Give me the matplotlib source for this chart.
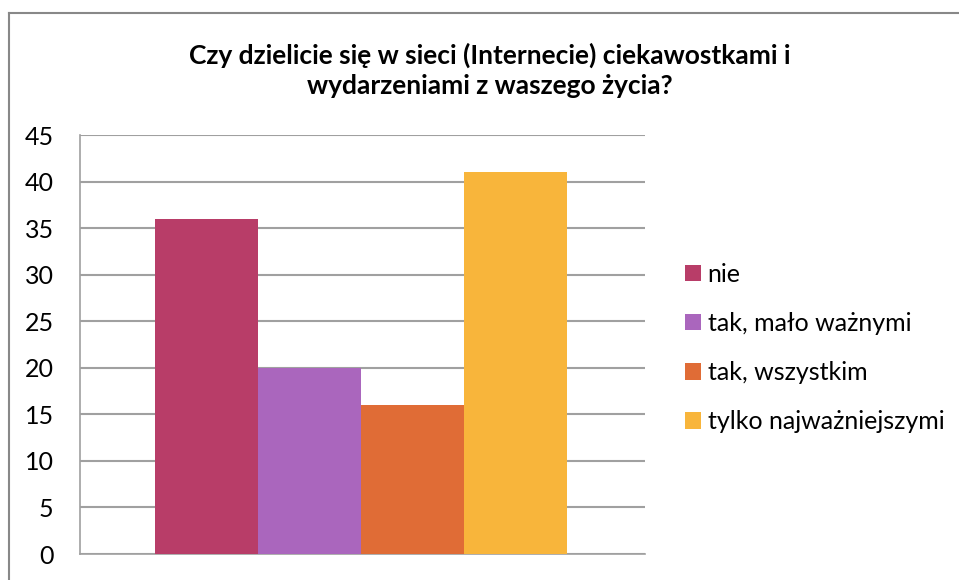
import matplotlib.pyplot as plt
from matplotlib.lines import Line2D

title = "Czy dzielicie się w sieci (Internecie) ciekawostkami i\nwydarzeniami z waszego życia?"
labels = ["nie", "tak, mało ważnymi", "tak, wszystkim", "tylko najważniejszymi"]
values = [36, 20, 16, 41]
colors = ["#B83D68", "#AA66BD", "#E06C36", "#F8B53B"]

plt.rcParams['font.family'] = ['Lato', 'DejaVu Sans']

fig = plt.figure(figsize=(9.59, 5.8), dpi=100)
ax = fig.add_axes([80 / 959, 1 - 554 / 580, 565 / 959, 419 / 580])

positions = [-1.5, -0.5, 0.5, 1.5]
for x, v, c, lab in zip(positions, values, colors, labels):
    ax.bar(x, v, width=1.0, color=c, label=lab, zorder=3)

ax.set_xlim(-2.73, 2.76)
ax.set_ylim(0, 45)
ax.set_yticks(range(0, 46, 5))
ax.set_xticks([])
ax.tick_params(axis='y', length=0, pad=19, labelsize=18)
ax.yaxis.grid(True, color='#A0A0A0', linewidth=1.5, zorder=0)
for s in ['top', 'right']:
    ax.spines[s].set_visible(False)
for s in ['left', 'bottom']:
    ax.spines[s].set_color('#A0A0A0')
    ax.spines[s].set_linewidth(1.2)

fig.text(0.5 + 10 / 959, 1 - 70 / 580, title, ha='center', va='center',
         fontsize=19, fontweight='bold', linespacing=1.3)

ax.legend(loc='center left', bbox_to_anchor=(685 / 959, 1 - 348 / 580),
          bbox_transform=fig.transFigure, frameon=False, fontsize=18,
          borderpad=0, borderaxespad=0,
          handlelength=0.65, handleheight=0.65, handletextpad=0.25,
          labelspacing=1.05)

# outer chart frame
fig.add_artist(Line2D([9 / 959, 9 / 959], [0, 1 - 13 / 580], transform=fig.transFigure,
                      color='#888888', linewidth=1.5))
fig.add_artist(Line2D([9 / 959, 1], [1 - 13 / 580, 1 - 13 / 580], transform=fig.transFigure,
                      color='#888888', linewidth=1.5))

fig.savefig('out.png', dpi=100)
